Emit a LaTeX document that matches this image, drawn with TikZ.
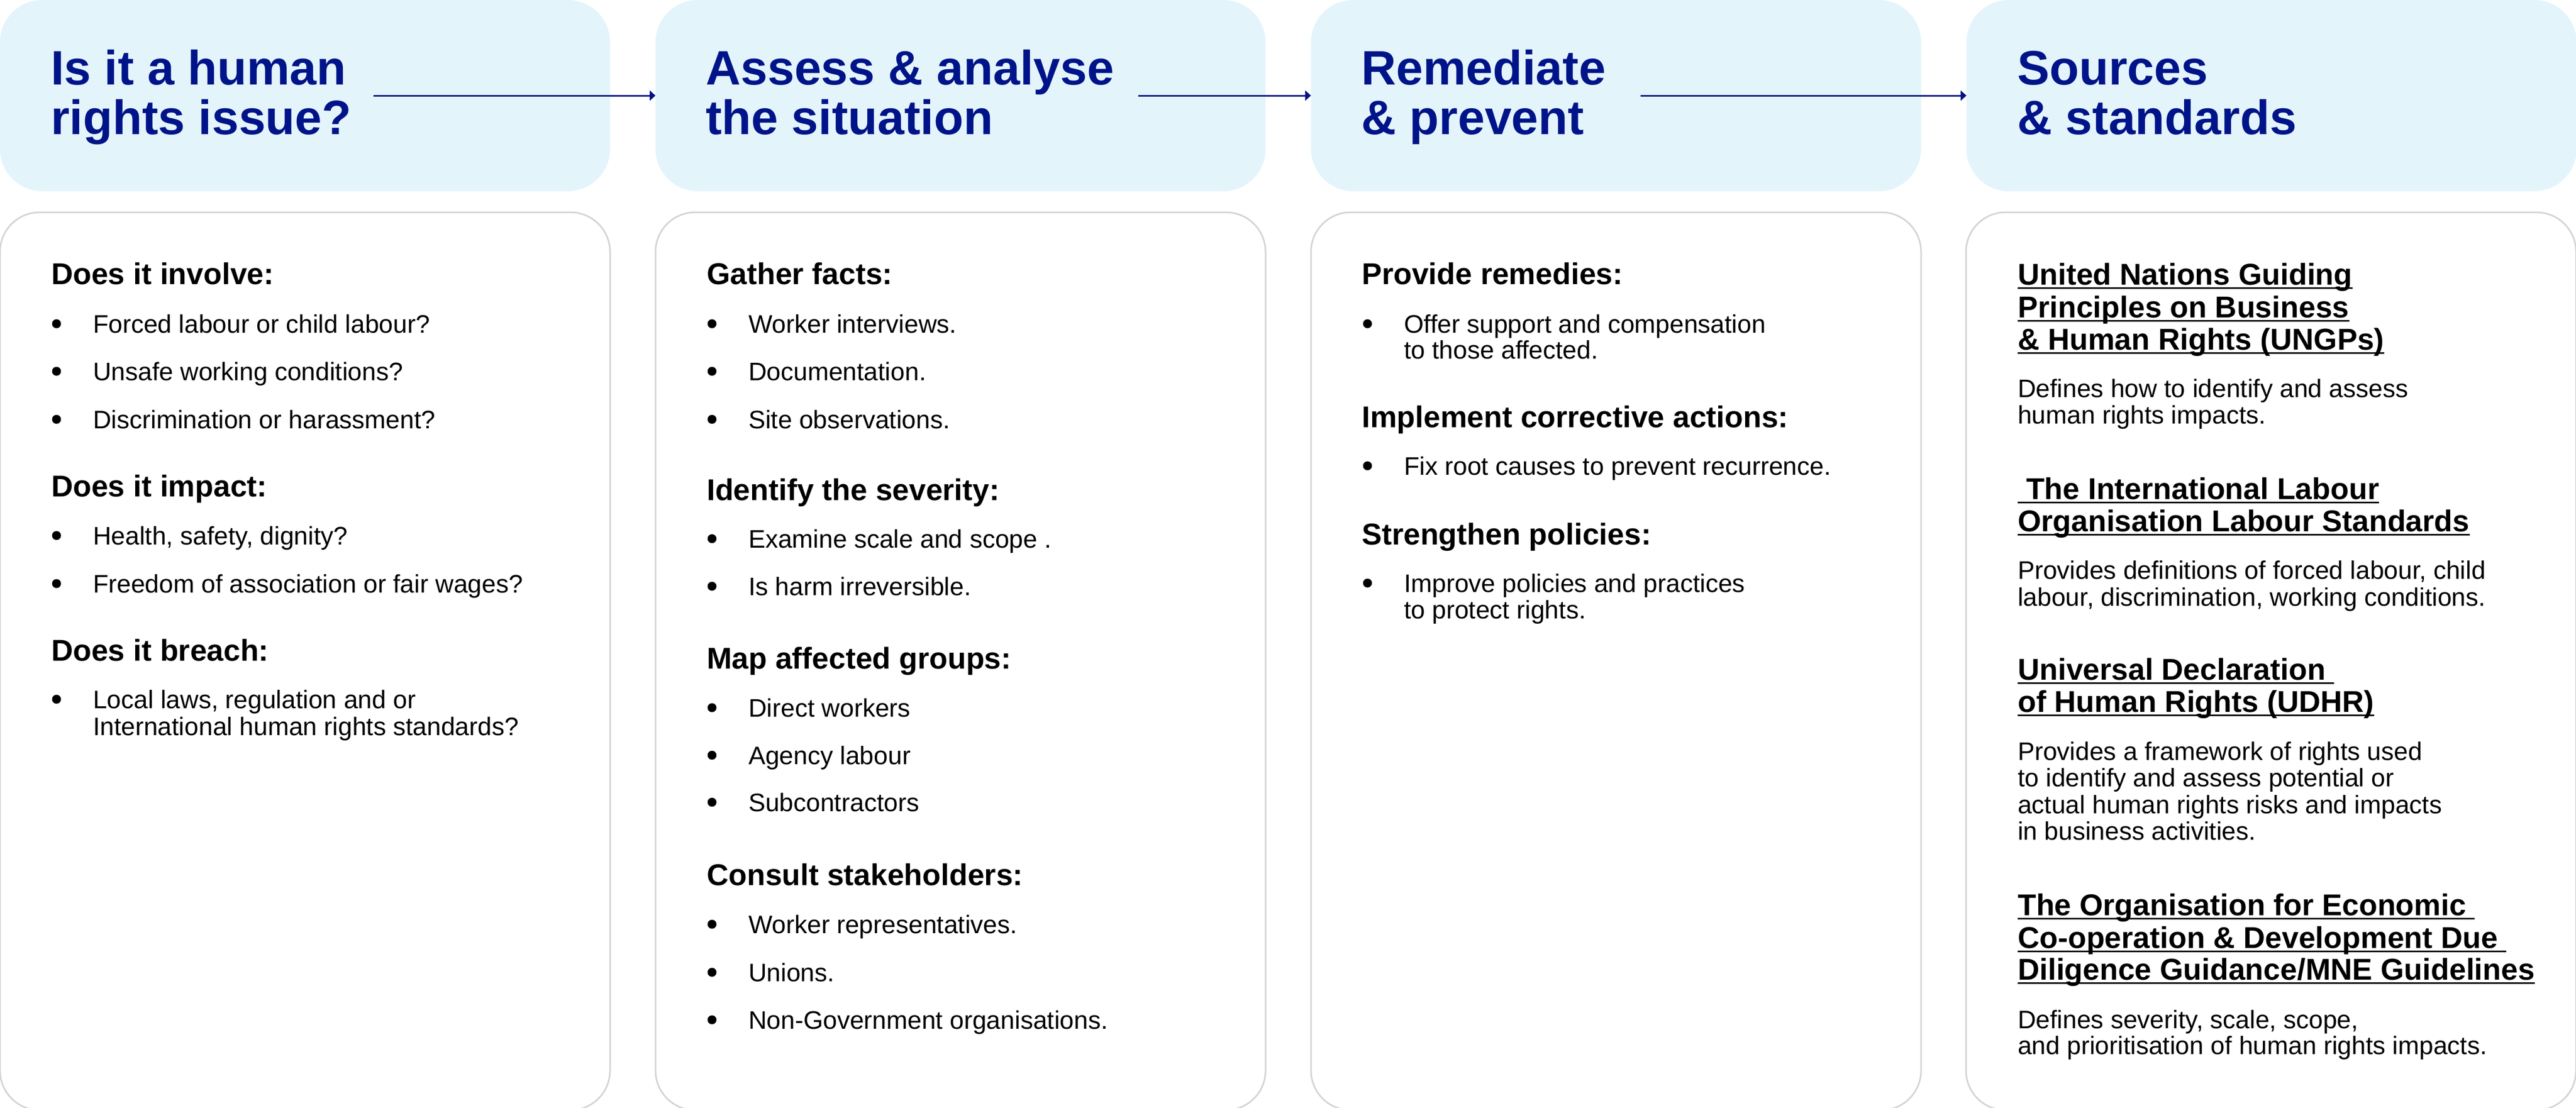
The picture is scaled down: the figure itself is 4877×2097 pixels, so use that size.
\documentclass[tikz,border=0pt]{standalone}
\usepackage{fontspec}
\setmainfont{Liberation Sans}
\usetikzlibrary{arrows.meta}
\definecolor{navy}{RGB}{0,20,137}
\definecolor{hfill}{RGB}{228,244,251}
\definecolor{gline}{RGB}{212,212,212}
\tikzset{
  hbox/.style={draw=none, fill=hfill, rounded corners=80pt, minimum width=1155pt, minimum height=362pt, inner sep=0pt, outer sep=0pt},
  cbox/.style={draw=gline, line width=3pt, fill=white, rounded corners=75pt, minimum width=1155pt, minimum height=1700pt, inner sep=0pt, outer sep=0pt},
  title/.style={anchor=base west, inner sep=0pt, text=navy, font=\fontsize{91.5}{94}\selectfont\bfseries},
  head/.style={anchor=base west, inner sep=0pt, font=\fontsize{57}{62}\selectfont\bfseries},
  body/.style={anchor=base west, inner sep=0pt, font=\fontsize{48}{52}\selectfont},
  dotb/.style={circle, fill=black, minimum size=17pt, inner sep=0pt},
  flow/.style={draw=navy, line width=3pt, -{Triangle[length=11pt,width=19pt]}},
  ul/.style={line width=3pt},
}
% bullet item: name, box-left x, baseline y, text
\newcommand{\bitem}[4]{%
  \node[dotb] (#1d) at (#2+107,#3-17) {};
  \node[body] (#1) at (#2+176,#3) {#4};
}
% continuation line of a bullet item
\newcommand{\bcont}[4]{%
  \node[body] (#1) at (#2+176,#3) {#4};
}
% underlined heading line in column 4
\newcommand{\ulhead}[3]{%
  \node[head] (#1) at (3820,#2) {#3};
  \draw[ul] ([yshift=-6pt]#1.base west) -- ([yshift=-6pt]#1.base east);
}
\begin{document}
\begin{tikzpicture}[x=1pt,y=-1pt]
\useasboundingbox (0,0) rectangle (4877,2097);

% header boxes
\node[hbox] (h1) at (577.5,181) {};
\node[hbox] (h2) at (1818.5,181) {};
\node[hbox] (h3) at (3059.5,181) {};
\node[hbox] (h4) at (4300.5,181) {};

% content boxes
\node[cbox] (c1) at (577.5,1252) {};
\node[cbox] (c2) at (1818.5,1252) {};
\node[cbox] (c3) at (3059.5,1252) {};
\node[cbox] (c4) at (4299.5,1252) {};

% titles
\node[title] (t1a) at (96,160) {Is it a human};
\node[title] (t1b) at (96,254) {rights issue?};
\node[title] (t2a) at (1336,160) {Assess \& analyse};
\node[title] (t2b) at (1336,254) {the situation};
\node[title] (t3a) at (2577,160) {Remediate};
\node[title] (t3b) at (2577,254) {\& prevent};
\node[title] (t4a) at (3819,160) {Sources};
\node[title] (t4b) at (3819,254) {\& standards};

% arrows
\coordinate (a1) at (707,181);
\coordinate (a2) at (2155,181);
\coordinate (a3) at (3106,181);
\draw[flow] (a1) -- (h2.west);
\draw[flow] (a2) -- (h3.west);
\draw[flow] (a3) -- (h4.west);

% column 1
\node[head] (k1a) at (97,538) {Does it involve:};
\bitem{k1a1}{0}{630}{Forced labour or child labour?}
\bitem{k1a2}{0}{720}{Unsafe working conditions?}
\bitem{k1a3}{0}{811}{Discrimination or harassment?}
\node[head] (k1b) at (97,940) {Does it impact:};
\bitem{k1b1}{0}{1031}{Health, safety, dignity?}
\bitem{k1b2}{0}{1122}{Freedom of association or fair wages?}
\node[head] (k1c) at (97,1251) {Does it breach:};
\bitem{k1c1}{0}{1341}{Local laws, regulation and or}
\bcont{k1c1b}{0}{1392}{International human rights standards?}

% column 2
\node[head] (k2a) at (1338,538) {Gather facts:};
\bitem{k2a1}{1241}{630}{Worker interviews.}
\bitem{k2a2}{1241}{720}{Documentation.}
\bitem{k2a3}{1241}{811}{Site observations.}
\node[head] (k2b) at (1338,947) {Identify the severity:};
\bitem{k2b1}{1241}{1037}{Examine scale and scope .}
\bitem{k2b2}{1241}{1127}{Is harm irreversible.}
\node[head] (k2c) at (1338,1266) {Map affected groups:};
\bitem{k2c1}{1241}{1357}{Direct workers}
\bitem{k2c2}{1241}{1447}{Agency labour}
\bitem{k2c3}{1241}{1536}{Subcontractors}
\node[head] (k2d) at (1338,1676) {Consult stakeholders:};
\bitem{k2d1}{1241}{1767}{Worker representatives.}
\bitem{k2d2}{1241}{1858}{Unions.}
\bitem{k2d3}{1241}{1948}{Non-Government organisations.}

% column 3
\node[head] (k3a) at (2578,538) {Provide remedies:};
\bitem{k3a1}{2482}{630}{Offer support and compensation}
\bcont{k3a1b}{2482}{679}{to those affected.}
\node[head] (k3b) at (2578,809) {Implement corrective actions:};
\bitem{k3b1}{2482}{899}{Fix root causes to prevent recurrence.}
\node[head] (k3c) at (2578,1031) {Strengthen policies:};
\bitem{k3c1}{2482}{1121}{Improve policies and practices}
\bcont{k3c1b}{2482}{1171}{to protect rights.}

% column 4
\ulhead{s1a}{539}{United Nations Guiding}
\ulhead{s1b}{601}{Principles on Business}
\ulhead{s1c}{662}{\& Human Rights (UNGPs)}
\node[body] (d1a) at (3820,752) {Defines how to identify and assess};
\node[body] (d1b) at (3820,802) {human rights impacts.};

\ulhead{s2a}{945}{\hbox{\ }The International Labour}
\ulhead{s2b}{1006}{Organisation Labour Standards}
\node[body] (d2a) at (3820,1096) {Provides definitions of forced labour, child};
\node[body] (d2b) at (3820,1147) {labour, discrimination, working conditions.};

\ulhead{s3a}{1287}{Universal Declaration\hbox{\ }}
\ulhead{s3b}{1348}{of Human Rights (UDHR)}
\node[body] (d3a) at (3820,1439) {Provides a framework of rights used};
\node[body] (d3b) at (3820,1489) {to identify and assess potential or};
\node[body] (d3c) at (3820,1540) {actual human rights risks and impacts};
\node[body] (d3d) at (3820,1590) {in business activities.};

\ulhead{s4a}{1733}{The Organisation for Economic\hbox{\ }}
\ulhead{s4b}{1795}{Co-operation \& Development Due\hbox{\ }}
\ulhead{s4c}{1855}{Diligence Guidance/MNE Guidelines}
\node[body] (d4a) at (3820,1947) {Defines severity, scale, scope,};
\node[body] (d4b) at (3820,1996) {and prioritisation of human rights impacts.};
\end{tikzpicture}
\end{document}
